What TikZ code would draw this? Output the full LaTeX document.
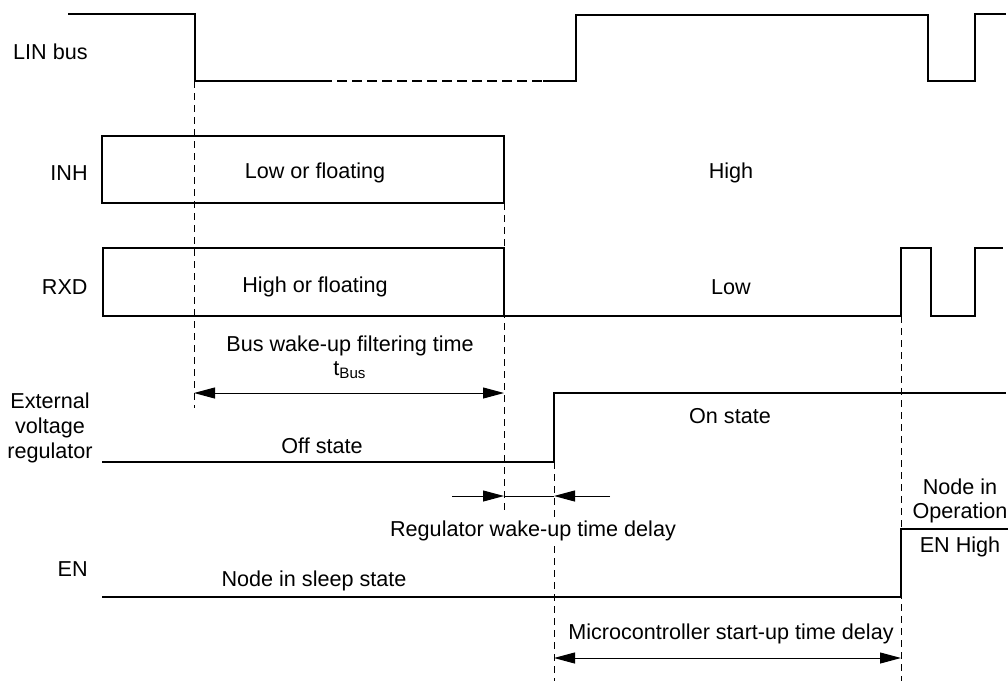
\documentclass[tikz,border=0pt]{standalone}
\usepackage{fontspec}
\setmainfont{Liberation Sans}
\usetikzlibrary{arrows.meta}

\begin{document}
\begin{tikzpicture}[x=0.5pt, y=-0.5pt,
    every node/.style={font=\fontsize{10.8}{12.3}\selectfont, inner sep=0pt},
    sigline/.style={line width=1pt, line join=miter},
    markline/.style={line width=0.5pt, dash pattern=on 3.5pt off 2.5pt},
    dimline/.style={line width=0.5pt, -{Triangle[length=10.5pt,width=5.5pt]}}]
\useasboundingbox (0,0) rectangle (1008,681);
% Marcas de tempo (tracejadas)
\foreach \x/\ya/\yb in {194/81/408, 504/203/513, 554/462/681, 901/316/681}
    \draw[markline] (\x,\ya) -- (\x,\yb);
% Nomes dos sinais
\foreach \i/\name/\y in {1/LIN bus/52, 2/INH/173, 3/RXD/287, 4/EN/569}
    \node[anchor=east] (S\i) at (88,\y) {\name};
\node[align=center] (Sreg) at (50,428) {External\\voltage\\regulator};
% LIN bus
\draw[sigline] (68,14) -- (195,14) -- (195,81) -- (322,81);
\draw[sigline, dash pattern=on 5pt off 2.5pt] (322,81) -- (543,81);
\draw[sigline] (543,81) -- (576,81) -- (576,15) -- (928,15) -- (928,81)
    -- (975,81) -- (975,14) -- (1006,14);
% INH
\draw[sigline] (102,136) rectangle (504,203);
\node (inhlow) at (315,173) {Low or floating};
\node (inhhigh) at (731,173) {High};
% RXD
\draw[sigline] (504,316) -- (504,248) -- (103,248) -- (103,316) -- (901,316)
    -- (901,248) -- (931,248) -- (931,316) -- (975,316) -- (975,248) -- (1003,248);
\node (rxdhigh) at (315,287) {High or floating};
\node (rxdlow) at (731,287) {Low};
% Regulador externo
\draw[sigline] (102,462) -- (554,462) -- (554,393) -- (1006,393);
\node (regoff) at (322,446) {Off state};
\node (regon) at (730,416) {On state};
% EN
\draw[sigline] (102,597) -- (901,597) -- (901,529) -- (1008,529);
\node (ensleep) at (314,581) {Node in sleep state};
\node[align=center] (enop) at (960,501) {Node in\\Operation};
\node (enhigh) at (960,547) {EN High};
% Cotas
\coordinate (bw1) at (194,393);
\coordinate (bw2) at (504,393);
\coordinate (bw3) at (349,393);
\draw[dimline] (bw3) -- (bw1);
\draw[dimline] (bw3) -- (bw2);
\node (bwtxt) at (350,346) {Bus wake-up filtering time};
\node (tbus) at (350,370) {t\textsubscript{Bus}};
\coordinate (rw0) at (452,496);
\coordinate (rw1) at (504,496);
\coordinate (rw2) at (554,496);
\coordinate (rw3) at (610,496);
\draw[dimline] (rw0) -- (rw1);
\draw[line width=0.5pt] (rw1) -- (rw2);
\draw[dimline] (rw3) -- (rw2);
\node[fill=white, inner sep=1pt] (rwtxt) at (533,531) {Regulator wake-up time delay};
\coordinate (mc1) at (554,658);
\coordinate (mc2) at (901,658);
\coordinate (mc3) at (727,658);
\draw[dimline] (mc3) -- (mc1);
\draw[dimline] (mc3) -- (mc2);
\node (mctxt) at (731,634) {Microcontroller start-up time delay};
\end{tikzpicture}
\end{document}
